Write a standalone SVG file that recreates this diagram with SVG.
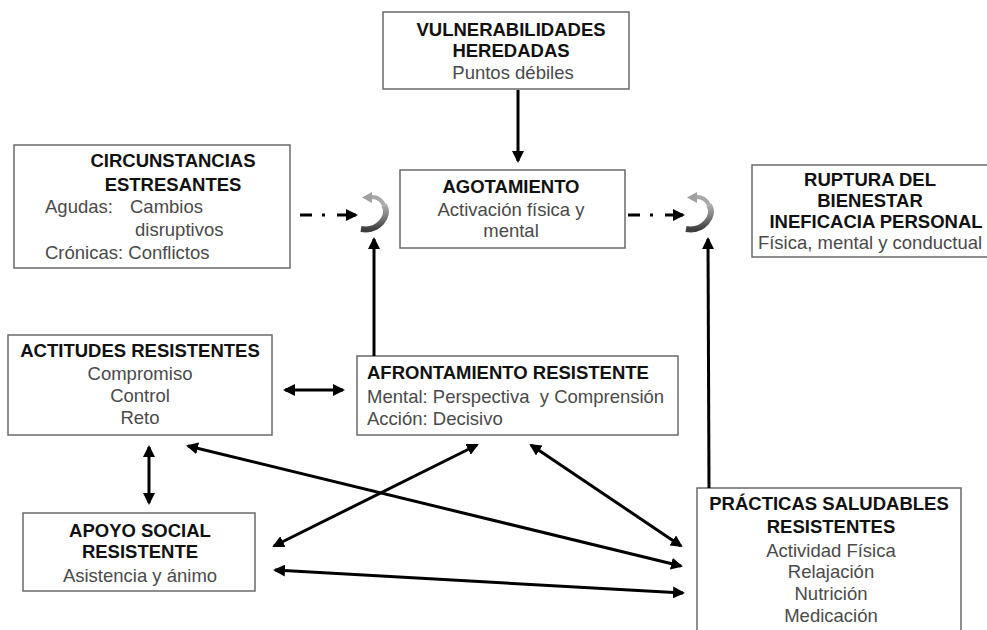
<svg xmlns="http://www.w3.org/2000/svg" xmlns:xlink="http://www.w3.org/1999/xlink" width="987" height="630" viewBox="0 0 987 630">
<style>
.box{fill:#fff;stroke:#6a6a6a;stroke-width:1.5}
.h{font-family:"Liberation Sans",Arial,sans-serif;font-weight:bold;font-size:18.5px;fill:#111}
.t{font-family:"Liberation Sans",Arial,sans-serif;font-size:18.5px;fill:#4a4a4a}
.c{text-anchor:middle}
.ln{stroke:#000;stroke-width:3;fill:none}
.da{marker-start:url(#ah);marker-end:url(#ah)}
.sa{marker-end:url(#ah)}
</style>
<defs>
<marker id="ah" viewBox="0 0 12 12" refX="10" refY="6" markerWidth="12" markerHeight="12" markerUnits="userSpaceOnUse" orient="auto-start-reverse">
<path d="M0,0 L12,6 L0,12 z" fill="#000"/>
</marker>
<linearGradient id="gr" x1="0" y1="0" x2="0" y2="1">
<stop offset="0" stop-color="#b0b0b0"/>
<stop offset="0.5" stop-color="#7a7a7a"/>
<stop offset="1" stop-color="#3e3e3e"/>
</linearGradient>
<g id="cyc">
<path d="M1,37 C18,40 31,24 24,13" fill="none" stroke="url(#gr)" stroke-width="6"/>
<path d="M24,13 C21,7 17,5 12,5" fill="none" stroke="#a8a8a8" stroke-width="4"/>
<polygon points="2,5.5 12,0 12,11" fill="#a0a0a0"/>
</g>
</defs>
<rect width="987" height="630" fill="#fff"/>

<g id="vulnerabilidades">
<rect class="box" x="383" y="12" width="246" height="77"/>
<text class="h c" x="511" y="36">VULNERABILIDADES</text>
<text class="h c" x="511" y="57">HEREDADAS</text>
<text class="t c" x="513" y="79">Puntos débiles</text>
</g>

<g id="circunstancias">
<rect class="box" x="14" y="145" width="276" height="123"/>
<text class="h c" x="173" y="167">CIRCUNSTANCIAS</text>
<text class="h c" x="173" y="191">ESTRESANTES</text>
<text class="t" x="45" y="213">Agudas:</text>
<text class="t" x="130" y="213">Cambios</text>
<text class="t" x="135" y="236">disruptivos</text>
<text class="t" x="45" y="259">Crónicas: Conflictos</text>
</g>

<g id="agotamiento">
<rect class="box" x="400" y="170" width="225" height="78"/>
<text class="h c" x="511" y="193">AGOTAMIENTO</text>
<text class="t c" x="511" y="216">Activación física y</text>
<text class="t c" x="511" y="237">mental</text>
</g>

<g id="ruptura">
<rect class="box" x="752" y="165" width="250" height="92"/>
<text class="h c" x="870" y="186">RUPTURA DEL</text>
<text class="h c" x="870" y="207">BIENESTAR</text>
<text class="h c" x="876" y="228">INEFICACIA PERSONAL</text>
<text class="t c" x="870" y="249">Física, mental y conductual</text>
</g>

<g id="actitudes">
<rect class="box" x="8" y="335" width="264" height="100"/>
<text class="h c" x="140" y="357">ACTITUDES RESISTENTES</text>
<text class="t c" x="140" y="380">Compromiso</text>
<text class="t c" x="140" y="402">Control</text>
<text class="t c" x="140" y="424">Reto</text>
</g>

<g id="afrontamiento">
<rect class="box" x="357" y="356" width="321" height="79"/>
<text class="h" x="367" y="379">AFRONTAMIENTO RESISTENTE</text>
<text class="t" x="367" y="403" xml:space="preserve">Mental: Perspectiva  y Comprensión</text>
<text class="t" x="367" y="425">Acción: Decisivo</text>
</g>

<g id="apoyo">
<rect class="box" x="23" y="513" width="232" height="78"/>
<text class="h c" x="140" y="537">APOYO SOCIAL</text>
<text class="h c" x="140" y="558">RESISTENTE</text>
<text class="t c" x="140" y="582">Asistencia y ánimo</text>
</g>

<g id="practicas">
<rect class="box" x="697" y="488" width="264" height="150"/>
<text class="h c" x="829" y="510">PRÁCTICAS SALUDABLES</text>
<text class="h c" x="831" y="533">RESISTENTES</text>
<text class="t c" x="831" y="557">Actividad Física</text>
<text class="t c" x="831" y="578">Relajación</text>
<text class="t c" x="831" y="600">Nutrición</text>
<text class="t c" x="831" y="622">Medicación</text>
</g>

<g id="ciclo-izq"><use xlink:href="#cyc" transform="translate(360,192)"/></g>
<g id="ciclo-der"><use xlink:href="#cyc" transform="translate(685,192)"/></g>

<g id="connectors">
<line class="ln sa" x1="518" y1="90" x2="518" y2="161"/>
<line class="ln sa" x1="374" y1="356" x2="374" y2="239"/>
<line class="ln sa" x1="709" y1="488" x2="708" y2="239"/>
<line class="ln sa" x1="300" y1="215" x2="356" y2="215" stroke-dasharray="12 10 3 12 30"/>
<line class="ln sa" x1="628" y1="215" x2="683" y2="215" stroke-dasharray="12 10 3 12 30"/>
<line class="ln da" x1="285" y1="390" x2="343" y2="390"/>
<line class="ln da" x1="149" y1="447" x2="149" y2="503"/>
<line class="ln da" x1="188" y1="446" x2="681" y2="566"/>
<line class="ln da" x1="477" y1="445" x2="274" y2="546"/>
<line class="ln da" x1="531" y1="445" x2="681" y2="546"/>
<line class="ln da" x1="275" y1="570" x2="683" y2="593"/>
</g>
</svg>
